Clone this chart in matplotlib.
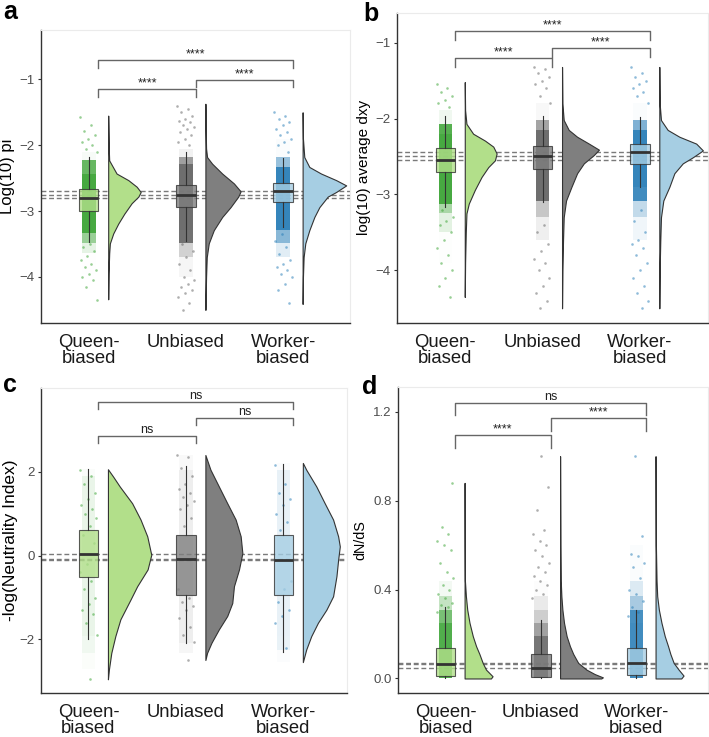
import numpy as np
import matplotlib.pyplot as plt

plt.rcParams['font.family'] = ['Liberation Sans', 'DejaVu Sans']

groups = ['Queen-\nbiased', 'Unbiased', 'Worker-\nbiased']
pairs = [(0, 1), (1, 2), (0, 2)]
fill_cols = ['#b2df8a', '#7f7f7f', '#a6cee3']
point_cols = ['#33a02c', '#5e5e5e', '#1f78b4']

# ---- panel a : log10 pi ----
pi_box = [[-3.47, -3.00, -2.80, -2.66, -2.18],
          [-3.45, -2.94, -2.75, -2.61, -2.11],
          [-3.24, -2.86, -2.70, -2.58, -2.20]]
pi_vy = [[-1.55, -1.82, -2.10, -2.23, -2.43, -2.53, -2.63, -2.71, -2.78, -2.88, -3.04, -3.19, -3.34, -3.49, -3.64, -3.95, -4.34],
         [-1.37, -1.80, -2.05, -2.18, -2.28, -2.43, -2.58, -2.70, -2.78, -2.94, -3.09, -3.29, -3.49, -3.70, -4.00, -4.50],
         [-1.50, -1.90, -2.18, -2.33, -2.43, -2.53, -2.61, -2.71, -2.78, -2.94, -3.09, -3.29, -3.49, -3.70, -4.00, -4.41]]
pi_vd = [[0, 1, 2, 3, 25, 60, 85, 97, 90, 70, 48, 30, 15, 5, 3, 1, 0],
         [0, 1, 2, 5, 20, 50, 85, 105, 98, 75, 50, 25, 10, 4, 2, 0],
         [0, 1, 5, 20, 55, 100, 130, 100, 75, 50, 35, 20, 8, 3, 1, 0]]
pi_stray = [[-1.57, -1.70, -1.78, -1.85, -1.90, -1.95, -2.00, -2.05, -2.10, -3.50, -3.55, -3.60, -3.68, -3.75,
             -3.80, -3.85, -3.90, -3.95, -4.00, -4.05, -4.15, -4.35],
            [-1.40, -1.45, -1.50, -1.55, -1.60, -1.63, -1.65, -1.70, -1.72, -1.75, -1.80, -1.85, -1.90, -1.95,
             -2.00, -3.50, -3.60, -3.70, -3.80, -3.90, -4.00, -4.05, -4.10, -4.15, -4.20, -4.25, -4.30, -4.40, -4.50],
            [-1.50, -1.55, -1.60, -1.65, -1.70, -1.75, -1.80, -1.85, -1.90, -1.95, -2.00, -2.10, -3.35, -3.45,
             -3.55, -3.65, -3.75, -3.80, -3.85, -3.90, -3.95, -4.00, -4.10, -4.20, -4.40]]
pi_sig = ['****', '****', '****']

# ---- panel b : log10 average dxy ----
dxy_box = [[-3.16, -2.71, -2.54, -2.39, -1.96],
           [-3.10, -2.67, -2.49, -2.36, -1.96],
           [-2.90, -2.60, -2.44, -2.34, -1.98]]
dxy_vy = [[-1.52, -1.89, -2.07, -2.20, -2.29, -2.37, -2.46, -2.55, -2.64, -2.77, -2.94, -3.12, -3.25, -3.50, -3.90, -4.35],
          [-1.32, -1.80, -2.02, -2.15, -2.24, -2.33, -2.41, -2.48, -2.59, -2.72, -2.90, -3.08, -3.30, -3.60, -4.00, -4.50],
          [-1.32, -1.80, -2.02, -2.15, -2.24, -2.33, -2.42, -2.51, -2.59, -2.72, -2.90, -3.08, -3.30, -3.60, -4.00, -4.50]]
dxy_vd = [[0, 1, 5, 25, 60, 85, 95, 90, 70, 50, 30, 12, 5, 3, 1, 0],
          [0, 1, 5, 20, 45, 80, 110, 95, 65, 45, 28, 12, 5, 3, 1, 0],
          [0, 1, 5, 25, 60, 110, 130, 100, 70, 45, 30, 12, 5, 3, 1, 0]]
dxy_stray = [[-1.55, -1.60, -1.65, -1.70, -1.75, -1.80, -1.85, -3.20, -3.30, -3.35, -3.40, -3.50, -3.60, -3.70,
              -3.80, -3.90, -4.00, -4.10, -4.20, -4.35],
             [-1.32, -1.35, -1.40, -1.45, -1.50, -1.55, -1.60, -1.70, -1.80, -3.40, -3.50, -3.65, -3.75, -3.85,
              -3.90, -4.00, -4.10, -4.20, -4.30, -4.40, -4.50],
             [-1.32, -1.40, -1.45, -1.50, -1.55, -1.60, -1.65, -1.70, -1.80, -3.20, -3.35, -3.50, -3.60, -3.65,
              -3.70, -3.80, -3.90, -4.00, -4.10, -4.20, -4.30, -4.40, -4.50]]
dxy_sig = ['****', '****', '****']

# ---- panel c : -log(Neutrality Index) ----
ni_box = [[-2.00, -0.51, 0.03, 0.60, 2.06],
          [-2.08, -0.93, -0.07, 0.48, 2.13],
          [-2.30, -0.95, -0.10, 0.48, 2.18]]
ni_vy = [[2.06, 1.89, 1.65, 1.25, 0.86, 0.46, 0.02, -0.33, -0.73, -1.05, -1.52, -1.92, -2.32, -2.71, -2.95],
         [2.40, 2.05, 1.65, 1.25, 0.86, 0.46, 0.06, -0.33, -0.73, -1.13, -1.44, -1.76, -2.08, -2.32, -2.49],
         [2.21, 2.05, 1.65, 1.25, 0.86, 0.46, 0.22, -0.10, -0.49, -0.97, -1.29, -1.60, -1.92, -2.24, -2.54]]
ni_vd = [[0, 15, 35, 72, 97, 117, 129, 118, 87, 67, 37, 22, 10, 3, 0],
         [0, 15, 40, 65, 90, 105, 110, 100, 85, 80, 65, 40, 18, 5, 0],
         [0, 10, 40, 65, 90, 105, 110, 105, 100, 90, 70, 45, 25, 10, 0]]
ni_stray = [[2.05, 1.90, 1.70, 1.50, 1.35, 1.20, 1.10, 1.00, 0.90, 0.70, 0.50, 0.30, -0.20, -0.40, -0.60, -0.80,
             -1.00, -1.15, -1.30, -1.40, -1.60, -1.90, -2.95],
            [2.40, 2.35, 2.10, 1.90, 1.70, 1.60, 1.50, 1.40, 1.30, 1.20, 1.10, 0.90, 0.70, -0.80, -1.00, -1.10,
             -1.20, -1.30, -1.50, -1.70, -1.90, -2.05, -2.50],
            [2.15, 1.70, 1.50, 1.35, 1.20, 1.00, 0.80, 0.60, -0.60, -0.80, -1.10, -1.30, -1.45, -1.60, -2.20]]
ni_sig = ['ns', 'ns', 'ns']

# ---- panel d : dN/dS ----
dnds_box = [[0.0, 0.010, 0.066, 0.136, 0.32],
            [0.0, 0.006, 0.048, 0.110, 0.265],
            [0.0, 0.014, 0.070, 0.135, 0.31]]
dnds_vy = [[0, 0.01, 0.04, 0.07, 0.11, 0.145, 0.19, 0.25, 0.31, 0.37, 0.44, 0.60, 0.88],
           [0, 0.005, 0.02, 0.04, 0.07, 0.11, 0.145, 0.19, 0.25, 0.31, 0.37, 0.44, 0.60, 1.00],
           [0, 0.013, 0.04, 0.07, 0.11, 0.145, 0.19, 0.25, 0.31, 0.37, 0.44, 0.60, 1.00]]
dnds_vd = [[80, 85, 65, 55, 45, 35, 25, 15, 8, 4, 1, 0.5, 0],
           [125, 130, 105, 80, 55, 40, 30, 20, 12, 7, 4, 2, 1, 0],
           [78, 85, 70, 55, 45, 38, 28, 18, 10, 5, 3, 1, 0]]
dnds_stray = [[0.30, 0.32, 0.33, 0.34, 0.36, 0.38, 0.40, 0.42, 0.45, 0.48, 0.52, 0.58, 0.60, 0.62, 0.65, 0.68, 0.88],
              [0.36, 0.38, 0.40, 0.42, 0.44, 0.46, 0.48, 0.50, 0.52, 0.55, 0.58, 0.60, 0.62, 0.65, 0.67, 0.76,
               0.86, 1.00],
              [0.28, 0.30, 0.32, 0.35, 0.38, 0.40, 0.45, 0.50, 0.52, 0.55, 0.56, 0.64, 1.00]]
dnds_sig = ['****', '****', 'ns']


def raincloud(ax, box, vy, vd, stray, sig, levels, tip, pk):
    xs = np.arange(1, 4)
    for b in box:
        ax.axhline(b[2], color='#7a7a7a', lw=1.0, ls=(0, (3.5, 2)), zorder=1)
    for i, x in enumerate(xs):
        # jittered raw points: the strip is shaded by the group's density
        yv, dv = np.array(vy[i]), np.array(vd[i], dtype=float)
        dmax = dv.max()
        for k in range(len(yv) - 1):
            r = (dv[k] + dv[k + 1]) / 2 / dmax
            a = pk * min(1.0, max(0.0, (r - 0.02) / 0.15))
            if a > 0:
                ax.fill_betweenx([yv[k], yv[k + 1]], x - 0.07, x + 0.07, color=point_cols[i],
                                 alpha=a, lw=0, zorder=2)
        ys = np.array(stray[i])
        off = ((np.arange(len(ys)) * 0.618034) % 1 - 0.5) * 0.18
        ax.scatter(x + off, ys, s=3.5, color=point_cols[i], alpha=0.5, lw=0, zorder=2)
        ax.fill_betweenx(yv, x + 0.2, x + 0.2 + dv / 290.0,
                         facecolor=fill_cols[i], edgecolor='#333333', lw=0.8, zorder=3)
    stats = [dict(whislo=b[0], q1=b[1], med=b[2], q3=b[3], whishi=b[4]) for b in box]
    bp = ax.bxp(stats, positions=xs, widths=0.2, patch_artist=True, showfliers=False,
                showcaps=False, manage_ticks=False, zorder=4,
                boxprops=dict(edgecolor='#333333', lw=0.8),
                whiskerprops=dict(color='#333333', lw=0.8),
                medianprops=dict(color='#333333', lw=2.0))
    for patch, c in zip(bp['boxes'], fill_cols):
        patch.set_facecolor(c)
        patch.set_alpha(0.8)
        patch.set_edgecolor('#333333')
    for (i, j), lev, lab in zip(pairs, levels, sig):
        x0, x1 = xs[i] + 0.1, xs[j] + 0.1
        ax.plot([x0, x0, x1, x1], [lev - tip, lev, lev, lev - tip],
                color='#666666', lw=1.0, zorder=5)
        ax.annotate(lab, ((x0 + x1) / 2, lev), xytext=(0, 2), textcoords='offset points',
                    ha='center', va='baseline', fontsize=9, color='#222222')
    ax.set_xticks(xs)
    ax.set_xticklabels(groups, fontsize=13.3, linespacing=0.95, color='#1a1a1a')
    ax.tick_params(axis='x', length=0, pad=8)
    ax.tick_params(axis='y', length=2.5, width=0.8, color='#333333',
                   labelsize=9.5, labelcolor='#4d4d4d', pad=2)
    for s in ['left', 'bottom']:
        ax.spines[s].set_color('#333333')
        ax.spines[s].set_linewidth(1.0)
    for s in ['top', 'right']:
        ax.spines[s].set_color('#ebebeb')
        ax.spines[s].set_linewidth(0.8)


fig = plt.figure(figsize=(7.09, 7.37), dpi=100)

axa = fig.add_axes([0.058, 0.5617, 0.436, 0.3976])
raincloud(axa, pi_box, pi_vy, pi_vd, pi_stray, pi_sig, [-1.15, -1.01, -0.71], 0.11, 0.9)
axa.set_xlim(0.51, 3.69)
axa.set_ylim(-4.70, -0.25)
axa.set_yticks([-4, -3, -2, -1])
axa.set_ylabel('Log(10) pi', fontsize=12, labelpad=3)

axb = fig.add_axes([0.5595, 0.5621, 0.439, 0.4202])
raincloud(axb, dxy_box, dxy_vy, dxy_vd, dxy_stray, dxy_sig, [-1.20, -1.07, -0.85], 0.12, 0.9)
axb.set_xlim(0.50, 3.70)
axb.set_ylim(-4.69, -0.61)
axb.set_yticks([-4, -3, -2, -1])
axb.set_ylabel('log(10) average dxy', fontsize=11, labelpad=3)

axc = fig.add_axes([0.0574, 0.0601, 0.4316, 0.413])
raincloud(axc, ni_box, ni_vy, ni_vd, ni_stray, ni_sig, [2.86, 3.28, 3.66], 0.17, 0.1)
axc.set_xlim(0.51, 3.65)
axc.set_ylim(-3.27, 3.99)
axc.set_yticks([-2, 0, 2])
axc.set_ylabel('-log(Neutrality Index)', fontsize=12.5, labelpad=1)

axd = fig.add_axes([0.561, 0.0601, 0.4377, 0.4144])
raincloud(axd, dnds_box, dnds_vy, dnds_vd, dnds_stray, dnds_sig, [1.094, 1.17, 1.24], 0.055, 0.85)
axd.set_xlim(0.50, 3.75)
axd.set_ylim(-0.064, 1.31)
axd.set_yticks([0.0, 0.4, 0.8, 1.2])
axd.set_yticklabels(['0.0', '0.4', '0.8', '1.2'])
axd.set_ylabel('dN/dS', fontsize=10.4, labelpad=4)

for lab, x, y in [('a', 0.004, 0.974), ('b', 0.512, 0.971), ('c', 0.004, 0.468), ('d', 0.510, 0.465)]:
    fig.text(x, y, lab, fontsize=18, fontweight='bold', va='baseline', ha='left')

fig.savefig('out.png', dpi=100)
